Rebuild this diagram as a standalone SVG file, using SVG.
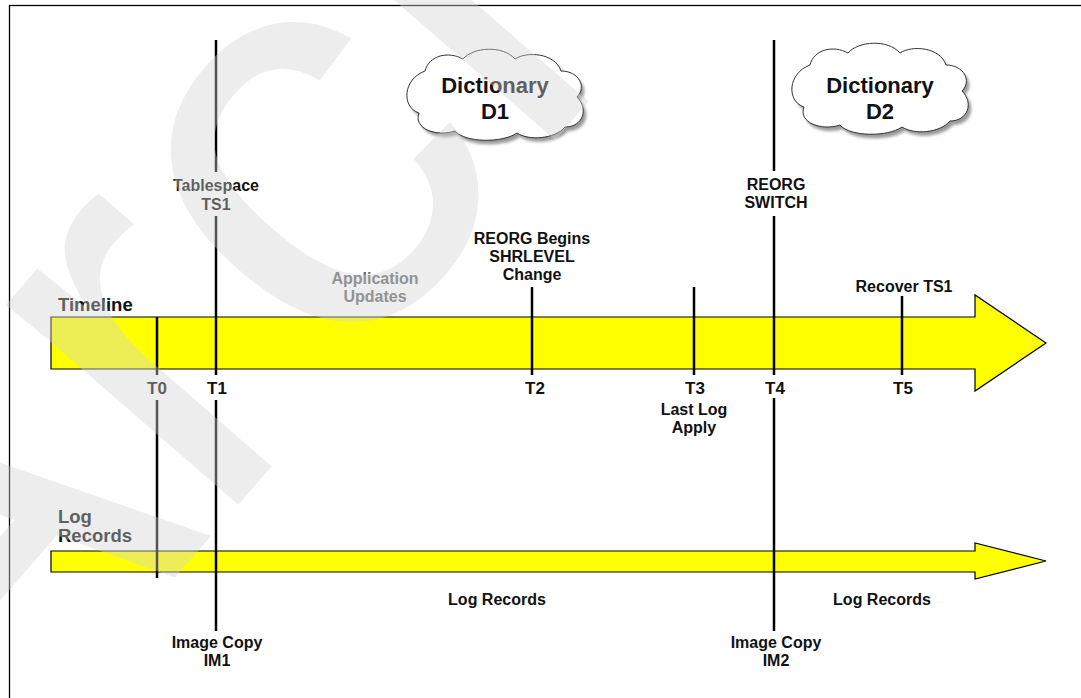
<svg xmlns="http://www.w3.org/2000/svg" width="1081" height="698" viewBox="0 0 1081 698">
  <style>
    .lbl { font-family: "Liberation Sans", Arial, sans-serif; font-weight: bold; font-size: 16px; text-anchor: middle; fill: #111; }
    .tk { font-size: 17px; }
    .hd { font-size: 18.5px; text-anchor: start; }
    .dict { font-size: 22px; }
    .gray { fill: #666; }
    .band { fill: #ffff00; stroke: #000; stroke-width: 1.2; stroke-linejoin: miter; }
    .tick { stroke: #000; stroke-width: 2.5; fill: none; }
    .cloud { fill: #fff; stroke: #333; stroke-width: 1; }
    .cloud-shadow { fill: #9a9a9a; filter: url(#soft); }
    .mark { font-family: "Liberation Sans", Arial, sans-serif; font-size: 580px; fill: #d4d4d4; opacity: 0.4; }
  </style>
  <defs>
    <filter id="soft" x="-10%" y="-10%" width="120%" height="130%">
      <feGaussianBlur stdDeviation="1.5"/>
    </filter>
    <path id="cloudShape" d="M -70,-26 C -66,-42 -46,-46 -32,-38 C -22,-50 8,-52 20,-38 C 32,-46 60,-44 66,-26 C 84,-26 92,-10 82,0 C 94,12 88,30 70,30 C 60,42 34,44 22,36 C 8,46 -30,46 -40,34 C -58,40 -82,32 -76,16 C -94,10 -92,-18 -70,-26 Z"/>
  </defs>

  <rect x="9.5" y="5.5" width="1100" height="720" fill="none" stroke="#000" stroke-width="1.3"/>

  <!-- time bands -->
  <g id="timeline">
    <polygon class="band" points="51,317 975,317 975,295 1046,343 975,391 975,369 51,369"/>
    <text class="lbl hd" x="58" y="311">Timeline</text>
  </g>
  <g id="log-records">
    <polygon class="band" points="51,551 975,551 975,543 1046,561 975,579 975,572 51,572"/>
    <text class="lbl hd" x="58" y="523">Log</text>
    <text class="lbl hd" x="58" y="542">Records</text>
  </g>

  <!-- dictionaries -->
  <g id="dictionary-d1" transform="translate(495,97)">
    <use href="#cloudShape" class="cloud-shadow" transform="translate(3,4)"/>
    <use href="#cloudShape" class="cloud"/>
    <text class="lbl dict" x="0" y="-4">Dictionary</text>
    <text class="lbl dict" x="0" y="22">D1</text>
  </g>
  <g id="dictionary-d2" transform="translate(880,91)">
    <use href="#cloudShape" class="cloud-shadow" transform="translate(3,4)"/>
    <use href="#cloudShape" class="cloud"/>
    <text class="lbl dict" x="0" y="2">Dictionary</text>
    <text class="lbl dict" x="0" y="28">D2</text>
  </g>

  <!-- point-in-time markers -->
  <g id="connectors">
    <line class="tick" x1="157" y1="317" x2="157" y2="375"/>
    <line class="tick" x1="157" y1="400" x2="157" y2="578"/>
    <line class="tick" x1="216" y1="40" x2="216" y2="172"/>
    <line class="tick" x1="216" y1="216" x2="216" y2="375"/>
    <line class="tick" x1="216" y1="400" x2="216" y2="631"/>
    <line class="tick" x1="532" y1="287" x2="532" y2="375"/>
    <line class="tick" x1="694" y1="287" x2="694" y2="375"/>
    <line class="tick" x1="774" y1="40" x2="774" y2="171"/>
    <line class="tick" x1="774" y1="216" x2="774" y2="375"/>
    <line class="tick" x1="774" y1="398" x2="774" y2="631"/>
    <line class="tick" x1="902" y1="296" x2="902" y2="375"/>
  </g>

  <g id="t0"><text class="lbl tk" x="157" y="394">T0</text></g>
  <g id="t1">
    <text class="lbl tk" x="217" y="394">T1</text>
    <text class="lbl" x="216" y="191">Tablespace</text>
    <text class="lbl" x="216" y="210">TS1</text>
    <text class="lbl" x="217" y="648">Image Copy</text>
    <text class="lbl" x="217" y="666">IM1</text>
  </g>
  <g id="updates">
    <text class="lbl gray" x="375" y="284">Application</text>
    <text class="lbl gray" x="375" y="302">Updates</text>
  </g>
  <g id="t2">
    <text class="lbl tk" x="535" y="394">T2</text>
    <text class="lbl" x="532" y="244">REORG Begins</text>
    <text class="lbl" x="532" y="262">SHRLEVEL</text>
    <text class="lbl" x="532" y="280">Change</text>
  </g>
  <g id="t3">
    <text class="lbl tk" x="695" y="394">T3</text>
    <text class="lbl" x="694" y="415">Last Log</text>
    <text class="lbl" x="694" y="433">Apply</text>
  </g>
  <g id="t4">
    <text class="lbl tk" x="775" y="394">T4</text>
    <text class="lbl" x="776" y="190">REORG</text>
    <text class="lbl" x="776" y="208">SWITCH</text>
    <text class="lbl" x="776" y="648">Image Copy</text>
    <text class="lbl" x="776" y="666">IM2</text>
  </g>
  <g id="t5">
    <text class="lbl tk" x="903" y="394">T5</text>
    <text class="lbl" x="904" y="292">Recover TS1</text>
  </g>
  <g id="log-labels">
    <text class="lbl" x="497" y="605">Log Records</text>
    <text class="lbl" x="882" y="605">Log Records</text>
  </g>

  <!-- translucent watermark over the page -->
  <text class="mark" transform="translate(-42,827) rotate(-49)">Archived</text>
</svg>
